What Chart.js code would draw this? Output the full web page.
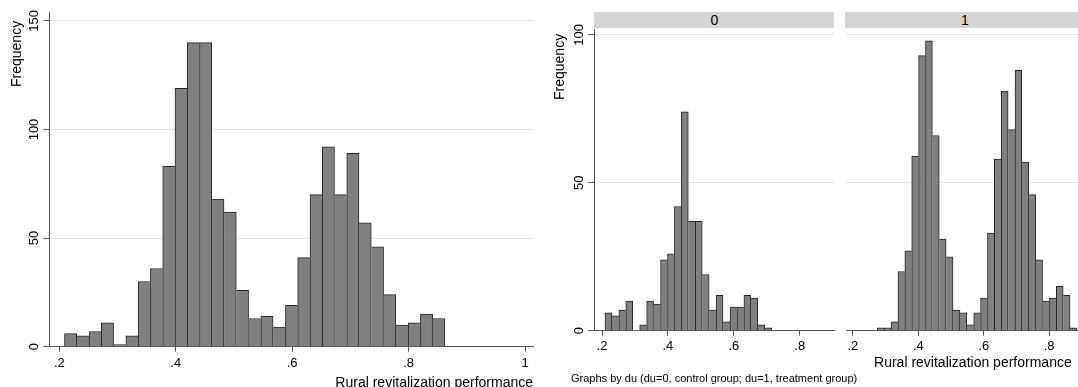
<!DOCTYPE html>
<html><head><meta charset="utf-8">
<script src="https://cdn.jsdelivr.net/npm/chart.js@4.4.1/dist/chart.umd.min.js"></script>
<style>
html,body{margin:0;padding:0;background:#fff;overflow:hidden;width:1078px;height:387px;}
body{position:relative;font-family:"Liberation Sans",Arial,sans-serif;color:#000;}
canvas{position:absolute;top:0;}
.t{position:absolute;white-space:nowrap;font-size:14px;line-height:14px;}
.rot{transform-origin:0 0;transform:rotate(-90deg);}
.strip{position:absolute;background:#d4d4d4;text-align:center;font-size:14px;line-height:16px;height:16px;top:12px;}
</style></head><body>
<canvas id="cAll" width="545" height="387" style="left:0"></canvas>
<canvas id="c0" width="300" height="387" style="left:540px"></canvas>
<canvas id="c1" width="240" height="387" style="left:845px"></canvas>
<div class="strip" style="left:594.3px;width:240px">0</div>
<div class="strip" style="left:845px;width:240px">1</div>
<div class="t rot" style="left:8.5px;top:87.3px">Frequency</div>
<div class="t rot" style="left:552px;top:100px">Frequency</div>
<div class="t" style="right:545px;top:374.8px">Rural revitalization performance</div>
<div class="t" style="right:6.3px;top:354.9px">Rural revitalization performance</div>
<div class="t" style="left:571px;top:372.7px;font-size:11px;line-height:11px">Graphs by du (du=0, control group; du=1, treatment group)</div>
<script>
// ---- data ----
const binCentersAll = [0.2194,0.2405,0.2616,0.2827,0.3037,0.3248,0.3459,0.3670,0.3881,0.4092,0.4302,0.4513,0.4724,0.4935,0.5146,0.5357,0.5567,0.5778,0.5989,0.6200,0.6411,0.6622,0.6832,0.7043,0.7254,0.7465,0.7676,0.7887,0.8097,0.8308,0.8519];
const freqAll = [6,5,7,11,1,5,30,36,83,119,140,140,68,62,26,13,14,9,19,41,70,92,70,89,57,46,24,10,11,15,13];

const binCentersDu0 = [0.2194,0.2405,0.2616,0.2827,0.3037,0.3248,0.3459,0.3670,0.3881,0.4092,0.4302,0.4513,0.4724,0.4935,0.5146,0.5357,0.5567,0.5778,0.5989,0.6200,0.6411,0.6622,0.6832,0.7043];
const freqDu0 = [6,5,7,10,0,2,10,9,24,26,42,74,37,37,19,7,12,3,8,8,12,11,2,1];

const binCentersDu1 = [0.2850,0.3061,0.3271,0.3482,0.3692,0.3903,0.4113,0.4324,0.4534,0.4745,0.4956,0.5166,0.5377,0.5587,0.5798,0.6008,0.6219,0.6429,0.6640,0.6851,0.7061,0.7272,0.7482,0.7693,0.7903,0.8114,0.8324,0.8535,0.8745];
const freqDu1 = [1,1,3,20,27,59,93,98,66,31,25,7,6,2,6,11,33,58,81,68,88,57,46,24,10,11,15,12,1];

const xTickValues = [0.2,0.4,0.6,0.8,1];
const xTickLabels = ['.2','.4','.6','.8','1'];
const yTicksAll = [0,50,100,150];
const yTicksFacet = [0,50,100];

// ---- styling ----
Chart.defaults.font.family = '"Liberation Sans", Arial, sans-serif';
Chart.defaults.color = '#000';
const AXIS = '#555';
const GRID = '#e6e6e6';
const BAR_FILL = '#808080';
const BAR_EDGE = '#262626';

function edgeWidths(ctx){
  const d = ctx.dataset.data, i = ctx.dataIndex;
  const cur = d[i].y, prev = d[i-1], next = d[i+1];
  return {
    top: 1,
    bottom: 0,
    left: (!prev || prev.y <= cur) ? 1 : 0,
    right: (!next || next.y < cur) ? 1 : 0
  };
}

function makeChart(id, centers, freqs, o){
  const data = centers.map((c,i)=>({x:c, y:freqs[i]}));
  return new Chart(document.getElementById(id), {
    type:'bar',
    data:{datasets:[{data, backgroundColor:BAR_FILL, borderColor:BAR_EDGE,
      borderWidth:edgeWidths, borderSkipped:false, barPercentage:1, categoryPercentage:1}]},
    options:{
      responsive:false, animation:false, devicePixelRatio:1,
      layout:{padding:o.pad},
      plugins:{legend:{display:false}, tooltip:{enabled:false}},
      scales:{
        x:{type:'linear', min:o.xmin, max:o.xmax, offset:false,
          afterBuildTicks:s=>{ s.ticks = xTickValues.filter(v=>v>=o.xmin && v<=o.xmax).map(v=>({value:v})); },
          afterFit:s=>{ s.height = o.xh; },
          ticks:{autoSkip:false, maxRotation:0, minRotation:0, padding:o.xpad, font:{size:13},
            callback:v=>xTickLabels[xTickValues.indexOf(Math.round(v*10)/10)]},
          grid:{offset:false, drawOnChartArea:false, drawTicks:true, tickLength:5, tickColor:AXIS},
          border:{display:true, color:AXIS, width:1}
        },
        y:{type:'linear', min:0, max:o.ymax,
          afterBuildTicks:s=>{ s.ticks = o.yticks.map(v=>({value:v})); },
          afterFit:s=>{ s.width = o.yw; },
          ticks:{display:o.ylabels, autoSkip:false, minRotation:90, maxRotation:90, crossAlign:'center',
            padding:-2, font:{size:13}, callback:v=>String(v)},
          grid:{offset:false, color:c=>c.tick && c.tick.value===0 ? 'rgba(0,0,0,0)' : GRID,
            drawTicks:o.ylabels, tickLength:6, tickColor:AXIS},
          border:{display:o.ylabels, color:AXIS, width:1}
        }
      }
    }
  });
}

makeChart('cAll', binCentersAll, freqAll, {
  pad:{top:12,right:12,bottom:0,left:0}, xmin:0.1828, xmax:1.0137, xh:40.3, xpad:4,
  ymax:154.1, yticks:yTicksAll, yw:49.3, ylabels:true});
makeChart('c0', binCentersDu0, freqDu0, {
  pad:{top:29.3,right:5.7,bottom:0,left:0}, xmin:0.1765, xmax:0.905, xh:56.3, xpad:2.5,
  ymax:101.9, yticks:yTicksFacet, yw:54.3, ylabels:true});
makeChart('c1', binCentersDu1, freqDu1, {
  pad:{top:29.3,right:0.7,bottom:0,left:0}, xmin:0.179, xmax:0.9075, xh:56.3, xpad:2.5,
  ymax:101.9, yticks:yTicksFacet, yw:0, ylabels:false});
</script>
</body></html>
